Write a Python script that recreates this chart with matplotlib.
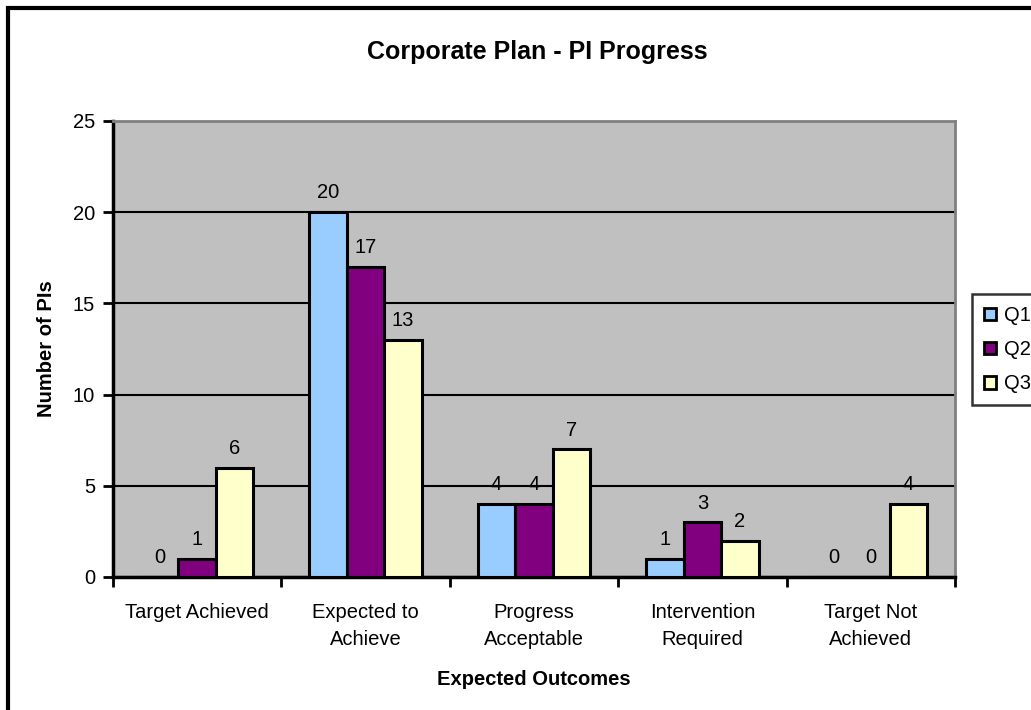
import matplotlib.pyplot as plt
import numpy as np
from matplotlib.patches import Rectangle

plt.rcParams['font.family'] = ['Liberation Sans', 'DejaVu Sans']

# categories and quarterly counts
categories = ["Target Achieved", "Expected to\nAchieve", "Progress\nAcceptable",
              "Intervention\nRequired", "Target Not\nAchieved"]
q1 = [0, 20, 4, 1, 0]
q2 = [1, 17, 4, 3, 0]
q3 = [6, 13, 7, 2, 4]
series = [("Q1", q1, "#99CCFF"), ("Q2", q2, "#800080"), ("Q3", q3, "#FFFFCC")]

FS = 14.5
W, H = 1031, 710
fig = plt.figure(figsize=(W / 100, H / 100), dpi=100)
ax = fig.add_axes([113 / W, 1 - 577 / H, (955 - 113) / W, (577 - 121) / H])
ax.set_facecolor("#C0C0C0")

# outer chart border (right and bottom fall outside the canvas)
fig.patches.append(Rectangle((8 / W, -0.05), 1.2, 1 - 8 / H + 0.05, transform=fig.transFigure,
                             fill=False, edgecolor="black", linewidth=3))

x = np.arange(len(categories))
bw = 1 / 4.5
for i, (name, vals, col) in enumerate(series):
    pos = x + (i - 1) * bw
    bars = ax.bar(pos, vals, width=bw, color=col, edgecolor="black", linewidth=2.2,
                  label=name, zorder=3)
    for b, v in zip(bars, vals):
        ax.annotate(str(v), (b.get_x() + bw / 2, v), xytext=(0, 7), textcoords="offset points",
                    ha="center", va="bottom", fontsize=FS, zorder=4)

ax.set_xlim(-0.5, len(categories) - 0.5)
ax.set_ylim(0, 25)
ax.set_yticks(range(0, 26, 5))
ax.yaxis.grid(True, color="black", linewidth=1.5, zorder=1)
ax.set_axisbelow(True)

# ticks at category boundaries, labels centred
ax.set_xticks(np.arange(-0.5, len(categories), 1))
ax.set_xticklabels([])
ax.set_xticks(x, minor=True)
ax.set_xticklabels(categories, minor=True, fontsize=FS, linespacing=1.5, va="top")
ax.tick_params(axis="x", which="minor", length=0, pad=19)
ax.tick_params(axis="x", which="major", length=7, width=2, direction="out")
ax.tick_params(axis="y", length=7, width=2, direction="out", labelsize=FS, pad=6)

for s in ["left", "bottom"]:
    ax.spines[s].set_linewidth(2.5)
    ax.spines[s].set_color("black")
for s in ["top", "right"]:
    ax.spines[s].set_linewidth(2)
    ax.spines[s].set_color("#808080")

ax.set_xlabel("Expected Outcomes", fontsize=FS, fontweight="bold", labelpad=15)
ax.set_ylabel("Number of PIs", fontsize=FS, fontweight="bold", labelpad=12)
fig.text(537 / W, 1 - 52 / H, "Corporate Plan - PI Progress", ha="center", va="center",
         fontsize=18, fontweight="bold")

leg = fig.legend(loc="upper left", bbox_to_anchor=(972 / W, 1 - 294 / H), frameon=True,
                 fancybox=False, fontsize=FS, handlelength=0.6, handleheight=0.6,
                 handletextpad=0.4, borderpad=0.6, labelspacing=0.75, borderaxespad=0)
leg.get_frame().set_edgecolor("black")
leg.get_frame().set_linewidth(1.8)
for h in leg.legend_handles:
    h.set_linewidth(2)

fig.savefig("out.png", dpi=100)
